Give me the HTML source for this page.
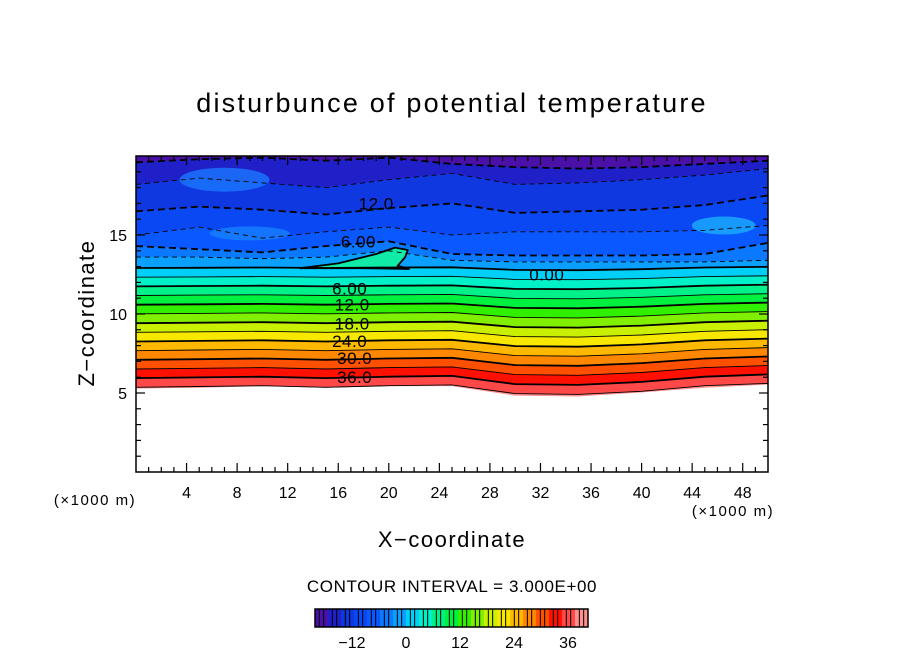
<!DOCTYPE html>
<html><head><meta charset="utf-8"><style>
html,body{margin:0;padding:0;background:#fff;}
svg{display:block;font-family:"Liberation Sans",sans-serif;}
</style></head><body>
<svg id="c" width="904" height="654" viewBox="0 0 904 654" xmlns="http://www.w3.org/2000/svg">
<text x="452" y="112" text-anchor="middle" font-size="27" letter-spacing="2.2">disturbunce of potential temperature</text>
<g id="field"></g>
<g id="lines"></g>
<g id="labels"></g>
<rect x="136" y="156" width="632" height="316" fill="none" stroke="#000" stroke-width="1.5"/>
<g id="axes"></g>
<text x="95" y="505" text-anchor="middle" font-size="15" letter-spacing="1.5">(×1000 m)</text>
<text x="733" y="516" text-anchor="middle" font-size="15" letter-spacing="1.5">(×1000 m)</text>
<text x="452" y="547" text-anchor="middle" font-size="22" letter-spacing="1.5">X−coordinate</text>
<text transform="translate(94,313) rotate(-90)" text-anchor="middle" font-size="22" letter-spacing="1.5">Z−coordinate</text>
<text x="452" y="592" text-anchor="middle" font-size="17" letter-spacing="0.6">CONTOUR INTERVAL = 3.000E+00</text>
<g id="cbar"></g>
</svg>
<script>
// ---- data ----
const xSamples = [0,5,10,15,20,25,30,35,40,45,50];           // km
const posLevels = [0,3,6,9,12,15,18,21,24,27,30,33,36,39];
const posBaseZ = [12.91,12.33,11.75,11.17,10.59,10.01,9.42,8.84,8.26,7.68,7.10,6.52,5.94,5.36];
const deflection = [0,0.05,0.1,0,0.1,0.15,-0.4,-0.45,-0.25,0.1,0.25];
const negLevels = [-18,-15,-12,-9,-6,-3];
const negZ = [
 [19.6,19.8,19.9,19.7,19.9,19.5,19.3,19.2,19.3,19.5,19.7],
 [18.2,18.6,18.3,18.0,18.5,18.9,18.2,18.3,18.5,18.8,19.2],
 [16.5,16.8,16.6,16.3,16.7,17.0,16.4,16.5,16.6,16.9,17.5],
 [15.0,15.5,14.8,15.2,15.5,15.0,15.2,15.2,15.2,15.3,15.6],
 [14.3,14.1,13.9,14.3,14.6,13.8,13.7,13.7,13.7,13.8,14.5],
 [13.6,13.6,13.5,13.6,14.0,13.4,13.3,13.3,13.3,13.3,13.4]
];
const groundZ = [5.3,5.35,5.45,5.35,5.45,5.45,4.85,4.8,5.05,5.35,5.55];
const tongueX = [13,16,19,20.5,21.5,21.3,20.7,21.6,18,13];
const tongueZ = [12.9,13.2,13.8,14.2,14.05,13.6,13.05,12.85,12.9,12.9];
const bandStart = [-21,-18,-15,-12,-9,-6,-3,0,3,6,9,12,15,18,21,24,27,30,33,36,39];
const bandColor = ["#4a10a8","#2020c8","#1038e0","#0a48f4","#0a58ff","#0a78ff","#0aa0ff","#00d0f8","#00f0c8","#00f08a","#00f040","#30f000","#80f000","#c8f000","#f8e800","#ffb800","#ff8800","#ff5000","#ff1000","#ff4848","#ff9090"];
const xTicks = [4,8,12,16,20,24,28,32,36,40,44,48];
const yTicks = [5,10,15];
const cbarTicks = [-12,0,12,24,36];
const contourLabelText = ["12.0","6.00","0.00","6.00","12.0","18.0","24.0","30.0","36.0"];
const contourLabelX = [19.0,17.6,32.5,16.9,17.1,17.1,16.9,17.3,17.3];
const contourLabelZ = [17.0,14.6,12.5,11.6,10.6,9.4,8.3,7.2,6.0];

// ---- scales ----
const sx = x => 136 + x*632/50;
const sy = z => 472 - z*316/20;
const NS = "http://www.w3.org/2000/svg";
function mk(tag, attrs, parent){const e=document.createElementNS(NS,tag);for(const k in attrs)e.setAttribute(k,attrs[k]);parent.appendChild(e);return e;}
const field = document.getElementById('field'), lines = document.getElementById('lines');

const allLines = [];
negLevels.forEach((lv,i)=>allLines.push({lv, z:negZ[i]}));
posLevels.forEach((lv,i)=>{
  const w = i/(posLevels.length-1);
  allLines.push({lv, z:xSamples.map((_,j)=>posBaseZ[i] + deflection[j]*(0.3+0.7*w))});
});
const topZ = xSamples.map(()=>20);
function ptsStr(zs, rev){const p = xSamples.map((x,j)=>sx(x).toFixed(1)+','+sy(zs[j]).toFixed(1));return (rev?p.reverse():p).join(' ');}
function colorFor(v){const i=bandStart.indexOf(v);return bandColor[i>=0?i:0];}

const bounds = [{lv:-21,z:topZ}].concat(allLines);
for(let k=0;k<bounds.length;k++){
  const upper = bounds[k].z;
  const lower = k+1<bounds.length ? bounds[k+1].z : groundZ;
  const v = k===0 ? -21 : bounds[k].lv;
  const poly = mk('polygon',{points:ptsStr(upper,false)+' '+ptsStr(lower,true), fill:colorFor(v), stroke:colorFor(v), 'stroke-width':0.5}, field);
  
  
}
// light patches in the upper region
const p1 = mk('ellipse',{cx:sx(7),cy:sy(18.5),rx:45,ry:12,fill:'#1a78ff',opacity:0.8},field);


const p2 = mk('ellipse',{cx:sx(46.5),cy:sy(15.6),rx:32,ry:9,fill:'#1aa8ff',opacity:0.85},field);


const p3 = mk('ellipse',{cx:sx(9),cy:sy(15.1),rx:40,ry:7,fill:'#1a88ff',opacity:0.7},field);



const tg = mk('polygon',{points:tongueX.map((x,i)=>sx(x).toFixed(1)+','+sy(tongueZ[i]).toFixed(1)).join(' '), fill:'#10eca8', stroke:'#000','stroke-width':1.8,'stroke-linejoin':'round'}, field);



allLines.forEach(L=>{
  const bold = L.lv % 6 === 0;
  const a = {points:ptsStr(L.z,false), fill:'none', stroke:'#000', 'stroke-width': bold?1.8:0.9};
  if(L.lv<0) a['stroke-dasharray'] = bold?'7,4':'5,4';
  const pl = mk('polyline',a,lines);
  
  
});

const lab = document.getElementById('labels');
contourLabelText.forEach((t,i)=>{
  const tx = mk('text',{x:sx(contourLabelX[i]), y:sy(contourLabelZ[i])+6, 'text-anchor':'middle','font-size':17,'letter-spacing':0.5}, lab);
  tx.textContent = t;
  
  
});

const ax = document.getElementById('axes');
for(let x=1;x<50;x++){
  const major = x%4===0, L = major?9:5;
  mk('line',{x1:sx(x),x2:sx(x),y1:472,y2:472-L,stroke:'#000','stroke-width':1.2},ax);
  mk('line',{x1:sx(x),x2:sx(x),y1:156,y2:156+L,stroke:'#000','stroke-width':1.2},ax);
}
for(let z=1;z<20;z++){
  const major = z%5===0, L = major?9:5;
  mk('line',{x1:136,x2:136+L,y1:sy(z),y2:sy(z),stroke:'#000','stroke-width':1.2},ax);
  mk('line',{x1:768,x2:768-L,y1:sy(z),y2:sy(z),stroke:'#000','stroke-width':1.2},ax);
}
xTicks.forEach(x=>{
  const t = mk('text',{x:sx(x), y:498, 'text-anchor':'middle','font-size':16}, ax);
  t.textContent = x;
  
  
});
yTicks.forEach(z=>{
  const t = mk('text',{x:127, y:sy(z)+6, 'text-anchor':'end','font-size':16}, ax);
  t.textContent = z;
  
  
});

const cb = document.getElementById('cbar');
const cbx = v => 406 + v*4.5;
const bw = 273/bandStart.length;
bandStart.forEach((v,i)=>{
  const r = mk('rect',{x:315+i*bw, y:609, width:bw+0.3, height:18, fill:bandColor[i]}, cb);
  
  
  for(let s=1;s<3;s++) mk('line',{x1:315+i*bw+s*bw/3,x2:315+i*bw+s*bw/3,y1:609,y2:627,stroke:'#000','stroke-width':1},cb);
});
mk('rect',{x:315,y:609,width:273,height:18,fill:'none',stroke:'#000','stroke-width':1.5},cb);
cbarTicks.forEach(v=>{
  const t = mk('text',{x:cbx(v), y:648, 'text-anchor':'middle','font-size':16}, cb);
  t.textContent = v<0 ? '−'+(-v) : v;
  
  
});
</script>
</body></html>
